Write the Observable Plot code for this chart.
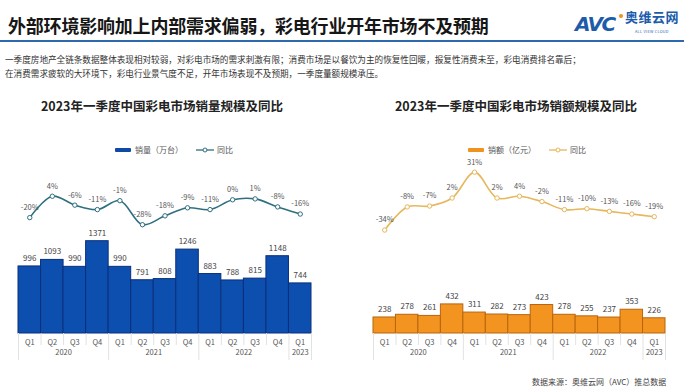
<!DOCTYPE html>
<html>
<head>
<meta charset="utf-8">
<script src="https://cdn.jsdelivr.net/npm/d3@7"></script>
<script src="https://cdn.jsdelivr.net/npm/@observablehq/plot@0.6"></script>
<style>
  html, body { margin: 0; padding: 0; background: #fff; }
  body { width: 688px; height: 391px; position: relative; overflow: hidden;
         font-family: "Noto Sans CJK SC", "Noto Sans", sans-serif; }
  .abs { position: absolute; white-space: nowrap; }
  .title { left: 8px; top: 12px; font-size: 18px; font-weight: 700; color: #161616; letter-spacing: -0.2px; }
  .rule { left: 0; top: 40px; width: 684px; height: 2px; background: #2c6aad; }
  .sub { left: 5px; font-size: 8.6px; color: #333; }
  .ctitle { font-size: 12.5px; font-weight: 700; color: #222; transform: translateX(-50%); }
  .legend { font-size: 8px; color: #555; display: flex; align-items: center; gap: 3px; }
  .legend .sw { display: inline-block; width: 16px; height: 4px; border-radius: 1px; margin-right: 1px; }
  .legend svg { display: block; }
  .src { font-size: 8px; color: #444; }
  .plot { position: absolute; }
  .plot svg { overflow: visible; }
  .logo span { line-height: 1; }
</style>
</head>
<body>
<div class="abs title">外部环境影响加上内部需求偏弱，彩电行业开年市场不及预期</div>
<div class="abs logo" style="left:575px; top:10px; width:110px; height:24px;">
  <span class="abs" style="left:0; top:2px; font: italic 900 20px 'DejaVu Sans', Arial, sans-serif; color:#1d5cab; letter-spacing:-1.5px;">AVC</span>
  <span class="abs" style="left:44px; top:4px; width:4px; height:4px; border-radius:2px; background:#f0901e;"></span>
  <span class="abs" style="left:50px; top:0px; font-size:13px; font-weight:700; color:#1d5cab; letter-spacing:0.5px;">奥维云网</span>
  <span class="abs" style="left:60px; top:20px; font-size:3.8px; color:#1d5cab; letter-spacing:0.3px;">ALL VIEW CLOUD</span>
</div>
<div class="abs rule"></div>
<div class="abs sub" style="top:53px;">一季度房地产全链条数据整体表现相对较弱，对彩电市场的需求刺激有限；消费市场是以餐饮为主的恢复性回暖，报复性消费未至，彩电消费排名靠后；</div>
<div class="abs sub" style="top:67px;">在消费需求疲软的大环境下，彩电行业景气度不足，开年市场表现不及预期，一季度量额规模承压。</div>

<div class="abs ctitle" style="left:162px; top:96px;">2023年一季度中国彩电市场销量规模及同比</div>
<div class="abs ctitle" style="left:516px; top:96px;">2023年一季度中国彩电市场销额规模及同比</div>

<div class="abs legend" style="left:115px; top:144px;">
  <span class="sw" style="background:#0d4aa6;"></span><span>销量（万台）</span>
  <svg width="18" height="8" style="margin-left:10px"><line x1="0" y1="4" x2="18" y2="4" stroke="#2f6f80" stroke-width="1.3"/><circle cx="9" cy="4" r="2" fill="#fff" stroke="#2f6f80"/></svg><span>同比</span>
</div>
<div class="abs legend" style="left:468px; top:144px;">
  <span class="sw" style="background:#f0921e;"></span><span>销额（亿元）</span>
  <svg width="18" height="8" style="margin-left:10px"><line x1="0" y1="4" x2="18" y2="4" stroke="#e7b75c" stroke-width="1.3"/><circle cx="9" cy="4" r="2" fill="#fff" stroke="#e7b75c"/></svg><span>同比</span>
</div>

<div id="lineL" class="plot" style="left:0; top:160px;"></div>
<div id="barL" class="plot" style="left:0; top:225px;"></div>
<div id="lineR" class="plot" style="left:344px; top:160px;"></div>
<div id="barR" class="plot" style="left:344px; top:225px;"></div>

<div class="abs src" style="left:532px; top:376px;">数据来源：奥维云网（AVC）推总数据</div>

<script>
// ---- data ----
const quarters = ["Q1","Q2","Q3","Q4","Q1","Q2","Q3","Q4","Q1","Q2","Q3","Q4","Q1"];
const years    = ["2020","2020","2020","2020","2021","2021","2021","2021","2022","2022","2022","2022","2023"];
const volume    = [996, 1093, 990, 1371, 990, 791, 808, 1246, 883, 788, 815, 1148, 744];   // 万台
const volumeYoY = [-20, 4, -6, -11, -1, -28, -18, -9, -11, 0, 1, -8, -16];                // %
const revenue    = [238, 278, 261, 432, 311, 282, 273, 423, 278, 255, 237, 353, 226];     // 亿元
const revenueYoY = [-34, -8, -7, 2, 31, 2, 4, -2, -11, -10, -13, -16, -19];               // %

const FONT = "'Noto Sans CJK SC', 'Noto Sans', sans-serif";

function rows(values, yoy) {
  return quarters.map((q, i) => ({i, q, year: years[i], value: values[i], yoy: yoy[i]}));
}
const yearGroups = Array.from(d3.group(quarters.map((q, i) => ({i, year: years[i]})), d => d.year),
  ([year, arr]) => ({year, mid: d3.mean(arr, d => d.i), lo: d3.min(arr, d => d.i) - 0.5, hi: d3.max(arr, d => d.i) + 0.5}));
const yearBounds = Array.from(new Set(yearGroups.flatMap(g => [g.lo, g.hi])));
const quarterBounds = quarters.map((q, i) => i).filter(i => i > 0 && years[i] === years[i - 1]).map(i => i - 0.5);
const xDomain = [-0.5, quarters.length - 0.5];

function lineChart(el, data, color, margins) {
  const p = Plot.plot({
    width: 344, height: 85,
    marginLeft: margins[0], marginRight: margins[1], marginTop: 0, marginBottom: 0,
    style: {background: "transparent", fontFamily: FONT, overflow: "visible"},
    x: {domain: xDomain, axis: null},
    y: {domain: [-40, 40], range: [74.9, 3.7], axis: null},
    marks: [
      Plot.line(data, {x: "i", y: "yoy", curve: "catmull-rom", stroke: color, strokeWidth: 1.6}),
      Plot.dot(data, {x: "i", y: "yoy", r: 2.2, fill: "#fff", stroke: color, strokeWidth: 1}),
      Plot.text(data, {x: "i", y: "yoy", text: d => `${d.yoy}%`, dy: -10, fontSize: 7.5, fill: "#555"})
    ]
  });
  document.getElementById(el).appendChild(p);
}

function barChart(el, data, fill, stroke, margins) {
  const p = Plot.plot({
    width: 344, height: 140,
    marginLeft: margins[0], marginRight: margins[1], marginTop: 0, marginBottom: 32,
    style: {background: "transparent", fontFamily: FONT, overflow: "visible"},
    x: {domain: xDomain},
    y: {domain: [0, 1604], axis: null},
    marks: [
      Plot.rectY(data, {x1: d => d.i - 0.5, x2: d => d.i + 0.5, y: "value", fill, stroke, strokeWidth: 1}),
      Plot.text(data, {x: "i", y: "value", text: d => String(d.value), dy: -8, fontSize: 8, fill: "#444"}),
      Plot.axisX({ticks: quarters.map((q, i) => i), tickFormat: i => quarters[i], tickSize: 0, tickPadding: 6, fontSize: 7.5, fill: "#555", label: null}),
      Plot.axisX({ticks: quarterBounds, tickSize: 12, tickFormat: () => "", stroke: "#e2e2e2", label: null}),
      Plot.axisX({ticks: yearBounds, tickSize: 27, tickFormat: () => "", stroke: "#e2e2e2", label: null}),
      Plot.text(yearGroups, {x: "mid", text: "year", frameAnchor: "bottom", dy: 21, fontSize: 7.5, fill: "#555"})
    ]
  });
  document.getElementById(el).appendChild(p);
}

const left = rows(volume, volumeYoY);
const right = rows(revenue, revenueYoY);
lineChart("lineL", left, "#2f6f80", [18, 33]);
barChart("barL", left, "#0d4fae", "#0a2f7c", [18, 33]);
lineChart("lineR", right, "#e7b75c", [29, 23]);
barChart("barR", right, "#f2941f", "#b8650f", [29, 23]);
</script>
</body>
</html>
